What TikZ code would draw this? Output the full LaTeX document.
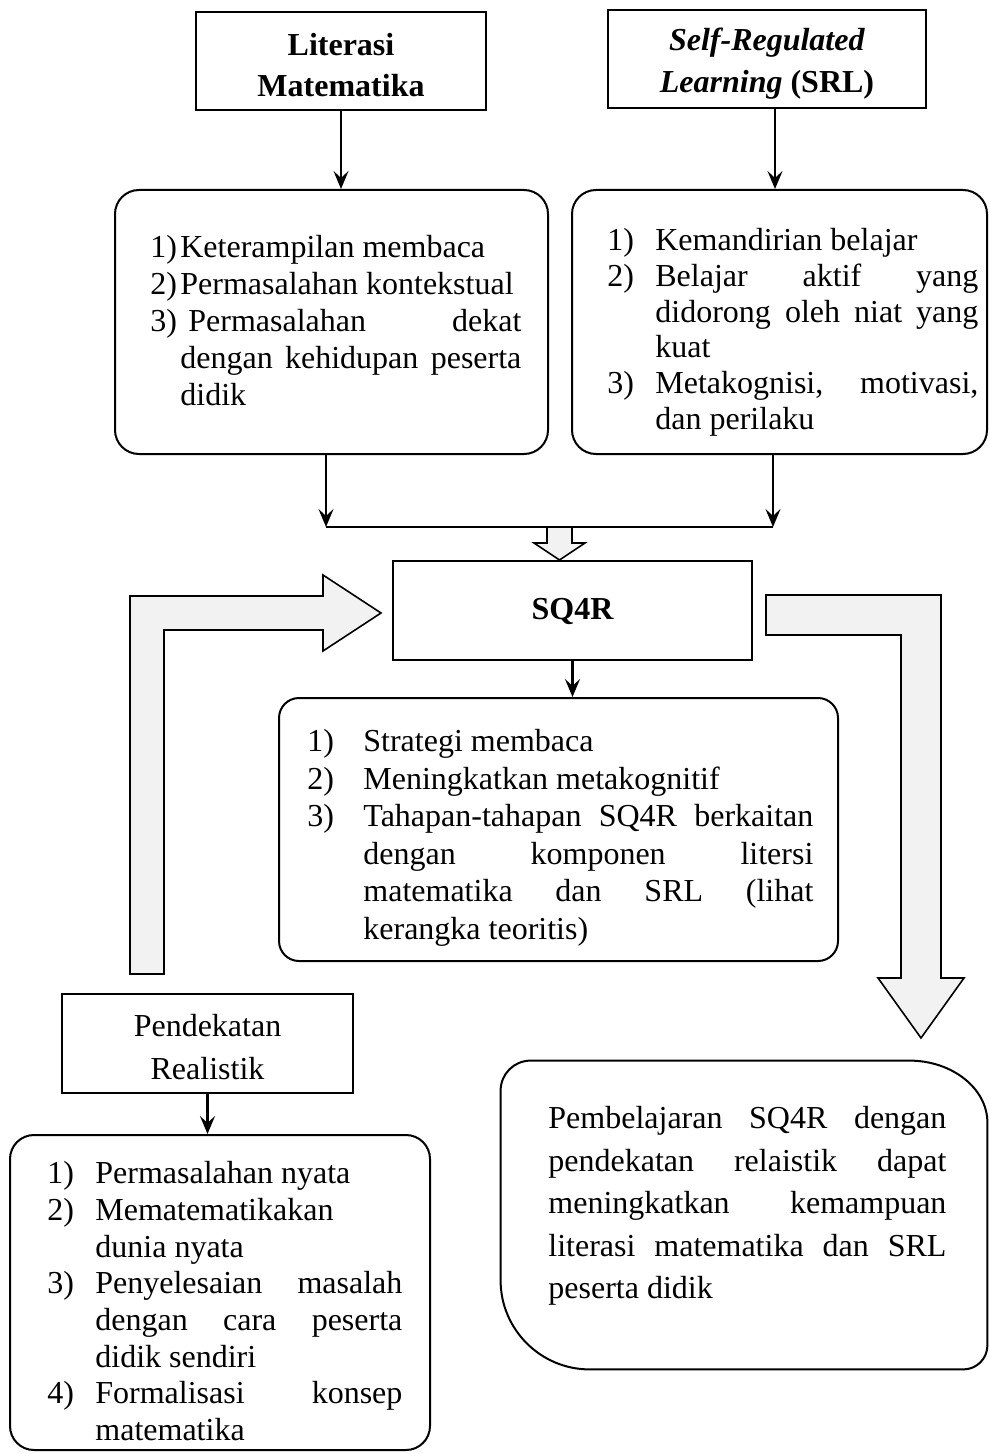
\documentclass[tikz,border=0pt]{standalone}
\usepackage{fontspec}
\setmainfont{Liberation Serif}
\usetikzlibrary{arrows.meta,calc}

\definecolor{arrowgray}{HTML}{F2F2F2}

% numbered item with hanging indent: #1 indent, #2 label, #3 text
\newcommand{\hitem}[3]{\hangindent=#1\relax\hangafter=1\relax
  \noindent\makebox[#1][l]{#2}#3\par}

\tikzset{
  box/.style={draw, line width=1pt, inner sep=0pt},
  rbox/.style={box, rounded corners=#1},
  conn/.style={line width=1.3pt, -{Stealth[length=9pt,width=7.5pt,inset=3.5pt]}},
  blockarrow/.style={draw, line width=0.8pt, fill=arrowgray, line join=miter},
  listtext/.style={anchor=north west, inner sep=0pt, align=justify,
    font=\fontsize{16}{#1}\selectfont,
    execute at begin node={\parskip=0pt\hyphenpenalty=10000\exhyphenpenalty=10000\tolerance=10000\hbadness=10000}},
  title/.style={inner sep=0pt, align=center, font=\fontsize{16}{#1}\selectfont}
}

\begin{document}
\begin{tikzpicture}[x=0.5pt,y=-0.5pt]
\useasboundingbox (0,0) rectangle (989,1454);

% ---------- top row ----------
\node[box, minimum width=145pt, minimum height=49pt] (lit) at (341,61) {};
\node[title=20.5pt] (litt) at (341,65) {\bfseries Literasi\\\bfseries Matematika};

\node[box, minimum width=159pt, minimum height=49pt] (srl) at (767,59) {};
\node[title=21pt] (srlt) at (767,64) {\textbf{\textit{Self-Regulated}}\\\textbf{\textit{Learning}} \textbf{(SRL)}};

% ---------- characteristic boxes ----------
\node[rbox=12pt, minimum width=216.5pt, minimum height=132pt] (b3) at (331.5,322) {};
\node[listtext=18.5pt, text width=185.5pt] (b3t) at (150,235) {%
  \hitem{15pt}{1)}{Keterampilan membaca}%
  \hitem{15pt}{2)}{Permasalahan kontekstual}%
  \hitem{15pt}{3)}{\hspace{4pt}Permasalahan dekat\linebreak dengan kehidupan peserta\linebreak didik}};

\node[rbox=12pt, minimum width=207.5pt, minimum height=132pt] (b4) at (779.5,322) {};
\node[listtext=17.9pt, text width=185.5pt] (b4t) at (607,228) {%
  \hitem{24pt}{1)}{Kemandirian belajar}%
  \hitem{24pt}{2)}{Belajar aktif yang\linebreak didorong oleh niat yang\linebreak kuat}%
  \hitem{24pt}{3)}{Metakognisi, motivasi,\linebreak dan perilaku}};

\draw[conn] (lit.south) -- (lit.south |- b3.north);
\draw[conn] ([xshift=4pt]srl.south) -- ([xshift=4pt]srl.south |- b4.north);

% ---------- merge into SQ4R ----------
\coordinate (jl) at (326,527);
\coordinate (jr) at (773,527);
\draw[conn] (b3.south -| jl) -- (jl);
\draw[conn] (b4.south -| jr) -- (jr);
\draw[line width=1.3pt] (jl) -- (jr);

\node[box, minimum width=179.5pt, minimum height=49.5pt] (sq) at (572.5,610.5) {};
\node[title=20pt] (sqt) at (572.5,611) {\bfseries SQ4R};

\draw[blockarrow] (547,527) -- (572,527) -- (572,543) -- (585,543)
  -- (559.5,560) -- (534,543) -- (547,543) -- cycle;

% ---------- SQ4R characteristics ----------
\node[rbox=10pt, minimum width=279.5pt, minimum height=131.5pt] (lst) at (558.5,829.5) {};
\node[listtext=18.75pt, text width=253pt] (lstt) at (307,729) {%
  \hitem{28pt}{1)}{Strategi membaca}%
  \hitem{28pt}{2)}{Meningkatkan metakognitif}%
  \hitem{28pt}{3)}{Tahapan-tahapan SQ4R berkaitan\linebreak dengan komponen litersi\linebreak matematika dan SRL (lihat\linebreak kerangka teoritis)}};
\draw[conn] (sq.south) -- (sq.south |- lst.north);

% ---------- bent block arrows ----------
\draw[blockarrow] (130,974) -- (130,596) -- (323,596) -- (323,575) -- (381,613)
  -- (323,651) -- (323,630) -- (164,630) -- (164,974) -- cycle;
\draw[blockarrow] (766,595) -- (941,595) -- (941,978) -- (964,978) -- (921,1038)
  -- (878,978) -- (901,978) -- (901,635) -- (766,635) -- cycle;

% ---------- realistic approach ----------
\node[box, minimum width=145.5pt, minimum height=49.5pt] (pr) at (207.5,1043.5) {};
\node[title=21.5pt] (prt) at (207.5,1047) {Pendekatan\\Realistik};

\node[rbox=12pt, minimum width=210pt, minimum height=157.5pt] (bl) at (220,1292.5) {};
\node[listtext=18.35pt, text width=177.5pt] (blt) at (47,1161) {%
  \hitem{24pt}{1)}{Permasalahan nyata}%
  \hitem{24pt}{2)}{Mematematikakan\newline dunia nyata}%
  \hitem{24pt}{3)}{Penyelesaian masalah\linebreak dengan cara peserta\linebreak didik sendiri}%
  \hitem{24pt}{4)}{Formalisasi konsep\linebreak matematika}};
\draw[conn] (pr.south) -- (pr.south |- bl.north);

% ---------- conclusion ----------
\node[inner sep=0pt, minimum width=243pt, minimum height=154pt] (fb) at (744,1215) {};
\draw[line width=1pt]
  ($(fb.north west)+(0,30)$) .. controls ($(fb.north west)+(0,13.4)$) and ($(fb.north west)+(13.4,0)$) .. ($(fb.north west)+(30,0)$)
  -- ($(fb.north east)+(-78,0)$) .. controls ($(fb.north east)+(-35,0)$) and ($(fb.north east)+(0,28)$) .. ($(fb.north east)+(0,62)$)
  -- ($(fb.south east)+(0,-24)$) .. controls ($(fb.south east)+(0,-10.8)$) and ($(fb.south east)+(-10.8,0)$) .. ($(fb.south east)+(-24,0)$)
  -- ($(fb.south west)+(89,0)$) .. controls ($(fb.south west)+(40,0)$) and ($(fb.south west)+(0,-40)$) .. ($(fb.south west)+(0,-89)$)
  -- cycle;
\node[listtext=21.25pt, text width=199pt] (fbt) at (548,1106) {%
  \noindent Pembelajaran SQ4R dengan\linebreak pendekatan relaistik dapat\linebreak meningkatkan kemampuan\linebreak literasi matematika dan SRL\linebreak peserta didik};
\end{tikzpicture}
\end{document}
